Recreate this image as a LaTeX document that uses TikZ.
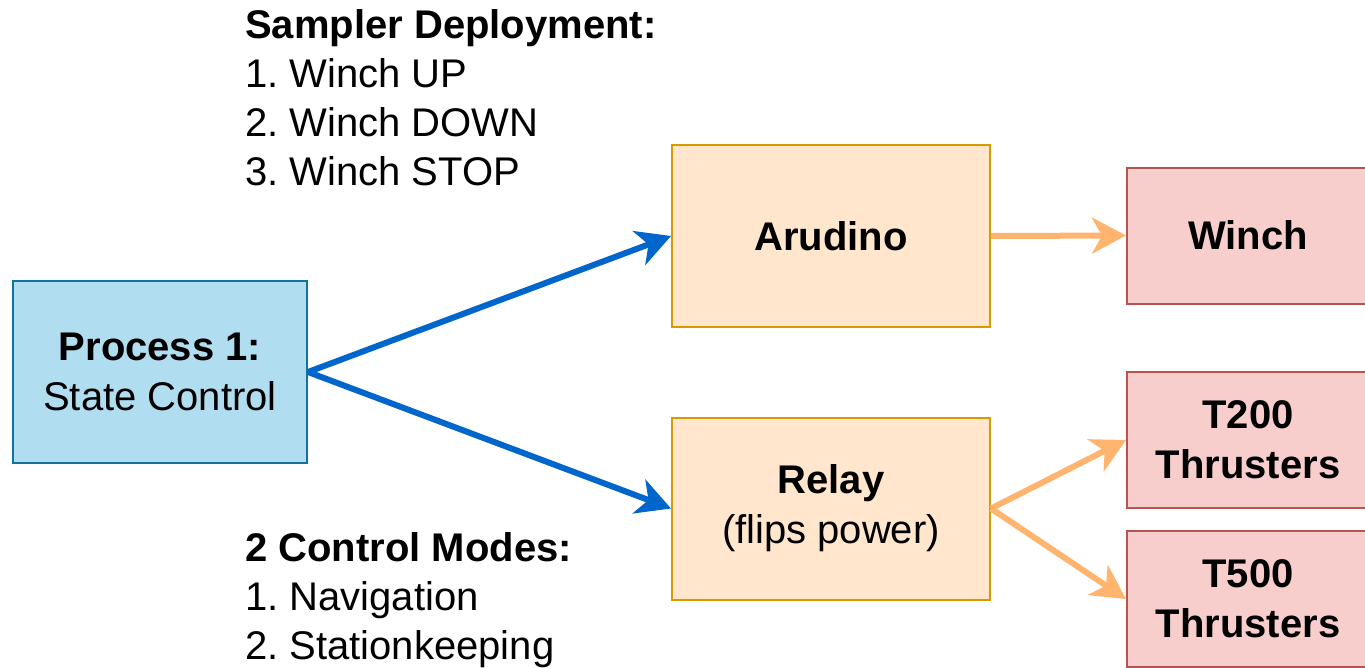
\documentclass[tikz,border=0pt]{standalone}
\usepackage{fontspec}
\setmainfont{Liberation Sans}
\usetikzlibrary{arrows.meta,positioning}
\frenchspacing

\definecolor{procfill}{HTML}{B1DDF0}
\definecolor{procline}{HTML}{10739E}
\definecolor{ctrlfill}{HTML}{FFE6CC}
\definecolor{ctrlline}{HTML}{D79B00}
\definecolor{devfill}{HTML}{F8CECC}
\definecolor{devline}{HTML}{B85450}
\definecolor{bluearrow}{HTML}{0066CC}
\definecolor{orangearrow}{HTML}{FFB570}

\tikzset{
    box/.style={draw, line width=2pt, inner sep=0pt, align=center,
        font=\fontsize{40}{50}\selectfont},
    procbox/.style={box, fill=procfill, draw=procline, minimum width=294pt, minimum height=182pt},
    ctrlbox/.style={box, fill=ctrlfill, draw=ctrlline, minimum width=318pt, minimum height=182pt},
    devbox/.style={box, fill=devfill, draw=devline, minimum width=242pt, minimum height=136pt},
    bluelink/.style={draw=bluearrow, line width=6pt, -{Stealth[length=34pt, width=36pt, inset=10pt]}},
    orangelink/.style={draw=orangearrow, line width=6pt, -{Stealth[length=34pt, width=36pt, inset=10pt]}},
    notes/.style={align=left, inner sep=0pt, anchor=north west,
        font=\fontsize{40}{49}\selectfont}
}

\begin{document}
\begin{tikzpicture}[x=1pt, y=-1pt]
        \useasboundingbox (0,0) rectangle (1365,667);
        \node [procbox] (proc) at (160,372) {\textbf{Process 1:}\\State Control};
        \node [ctrlbox] (ard) at (831,236) {\textbf{Arudino}};
        \node [ctrlbox] (relay) at (831,508.5) {\textbf{Relay}\\(flips power)};
        \node [devbox] (winch) at (1248,235.5) {\textbf{Winch}};
        \node [devbox] (t200) at (1248,440) {\textbf{T200}\\\textbf{Thrusters}};
        \node [devbox] (t500) at (1248,599) {\textbf{T500}\\\textbf{Thrusters}};
        \draw [bluelink] (proc.east) -- (ard.west);
        \draw [bluelink] (proc.east) -- (relay.west);
        \draw [orangelink] (ard.east) -- (winch.west);
        \draw [orangelink] (relay.east) -- (t200.west);
        \draw [orangelink] (relay.east) -- (t500.west);
        \node [notes] (sampler) at (245,9) {\textbf{Sampler Deployment:}\\1. Winch UP\\2. Winch DOWN\\3. Winch STOP};
        \node [notes] (modes) at (245,532) {\textbf{2 Control Modes:}\\1. Navigation\\2. Stationkeeping};
    \end{tikzpicture}
\end{document}
